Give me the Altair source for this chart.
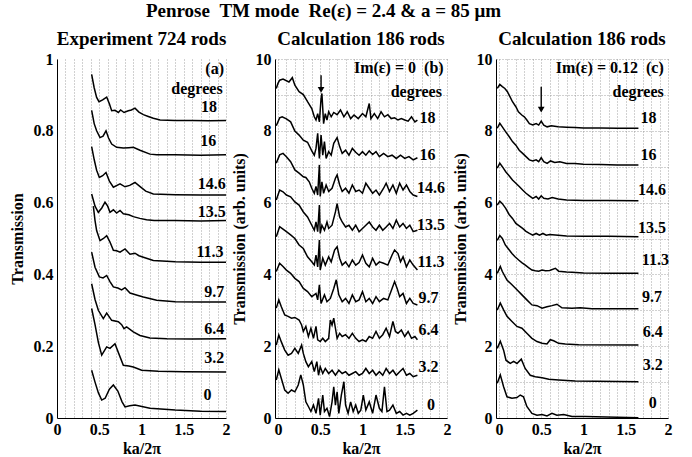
import altair as alt
import pandas as pd

FONT = "Liberation Serif"
NB = "\u00a0"

ANGLES = ["18", "16", "14.6", "13.5", "11.3", "9.7", "6.4", "3.2", "0"]
OFFSETS = [8, 7, 6, 5, 4, 3, 2, 1, 0]

# ---------------- Panel (a): experiment, absolute transmission ----------------
A18_X = [0.41, 0.44, 0.469, 0.497, 0.54, 0.588, 0.62, 0.647, 0.686, 0.726, 0.753, 0.793, 0.844, 0.88, 0.923, 0.97, 1.022, 1.08, 1.14, 1.22, 1.4, 1.6, 1.8, 2.0]
A18_Y = [0.957, 0.92, 0.893, 0.881, 0.886, 0.894, 0.875, 0.856, 0.857, 0.851, 0.858, 0.851, 0.856, 0.858, 0.863, 0.852, 0.845, 0.84, 0.835, 0.830, 0.829, 0.829, 0.828, 0.829]
A16_X = [0.41, 0.44, 0.469, 0.509, 0.545, 0.58, 0.61, 0.647, 0.706, 0.785, 0.85, 0.903, 0.982, 1.1, 1.18, 1.4, 1.7, 2.0]
A16_Y = [0.857, 0.82, 0.80, 0.781, 0.785, 0.80, 0.78, 0.763, 0.754, 0.752, 0.753, 0.754, 0.746, 0.735, 0.733, 0.733, 0.732, 0.733]
A146_X = [0.41, 0.44, 0.469, 0.501, 0.54, 0.58, 0.62, 0.667, 0.746, 0.805, 0.86, 0.923, 0.98, 1.05, 1.14, 1.4, 1.7, 2.0]
A146_Y = [0.756, 0.72, 0.69, 0.670, 0.675, 0.684, 0.66, 0.643, 0.652, 0.644, 0.648, 0.656, 0.645, 0.632, 0.624, 0.622, 0.621, 0.621]
A135_X = [0.41, 0.45, 0.489, 0.53, 0.568, 0.6, 0.627, 0.667, 0.706, 0.746, 0.785, 0.85, 0.903, 0.98, 1.06, 1.15, 1.4, 1.7, 2.0]
A135_Y = [0.624, 0.59, 0.573, 0.585, 0.601, 0.59, 0.573, 0.580, 0.571, 0.578, 0.569, 0.566, 0.561, 0.556, 0.552, 0.550, 0.550, 0.549, 0.550]
A113_X = [0.43, 0.45, 0.469, 0.509, 0.55, 0.588, 0.627, 0.667, 0.706, 0.746, 0.805, 0.864, 0.923, 0.97, 1.022, 1.14, 1.4, 1.7, 2.0]
A113_Y = [0.59, 0.55, 0.522, 0.494, 0.50, 0.508, 0.49, 0.467, 0.466, 0.462, 0.471, 0.456, 0.459, 0.452, 0.448, 0.439, 0.435, 0.434, 0.434]
A97_X = [0.41, 0.45, 0.501, 0.545, 0.588, 0.627, 0.667, 0.72, 0.765, 0.805, 0.864, 0.95, 1.022, 1.18, 1.4, 1.7, 2.0]
A97_Y = [0.462, 0.42, 0.393, 0.39, 0.397, 0.38, 0.365, 0.362, 0.357, 0.363, 0.348, 0.342, 0.337, 0.328, 0.324, 0.323, 0.323]
A64_X = [0.41, 0.45, 0.489, 0.548, 0.588, 0.647, 0.726, 0.765, 0.793, 0.824, 0.903, 0.982, 1.1, 1.3, 1.6, 2.0]
A64_Y = [0.374, 0.33, 0.300, 0.277, 0.292, 0.272, 0.268, 0.26, 0.249, 0.254, 0.240, 0.230, 0.223, 0.221, 0.220, 0.221]
A32_X = [0.41, 0.45, 0.49, 0.529, 0.588, 0.627, 0.686, 0.73, 0.785, 0.85, 0.903, 1.002, 1.2, 1.5, 2.0]
A32_Y = [0.305, 0.26, 0.21, 0.175, 0.198, 0.194, 0.207, 0.18, 0.147, 0.145, 0.142, 0.133, 0.130, 0.129, 0.128]
A0_X = [0.41, 0.45, 0.49, 0.529, 0.57, 0.62, 0.667, 0.72, 0.77, 0.805, 0.86, 0.923, 1.1, 1.4, 1.7, 2.0]
A0_Y = [0.133, 0.10, 0.07, 0.05, 0.055, 0.08, 0.092, 0.075, 0.045, 0.031, 0.034, 0.036, 0.027, 0.022, 0.019, 0.018]

A_LABEL_X = [1.80, 1.79, 1.83, 1.83, 1.81, 1.86, 1.86, 1.86, 1.78]
A_LABEL_Y = [0.867, 0.772, 0.653, 0.573, 0.462, 0.351, 0.249, 0.166, 0.064]
A_NOTES = ["(a)", "degrees"]
A_NOTE_X = [1.976, 1.96]
A_NOTE_Y = [0.972, 0.917]

# ---------------- Panel (b): calculation Im(eps)=0, value above each offset ----------------
B18_X = [-0.02, 0, 0.02, 0.06, 0.13, 0.17, 0.2, 0.25, 0.3, 0.35, 0.4, 0.43, 0.45, 0.47, 0.49, 0.51, 0.52, 0.54, 0.56, 0.58, 0.6, 0.63, 0.66, 0.7, 0.74, 0.78, 0.82, 0.86, 0.9, 0.95, 1.0, 1.04, 1.08, 1.1, 1.14, 1.18, 1.22, 1.26, 1.3, 1.34, 1.38, 1.42, 1.46, 1.5, 1.54, 1.58, 1.62, 1.65]
B18_R = [1.18, 1.32, 1.41, 1.44, 1.36, 1.48, 1.27, 1.09, 1.01, 0.81, 0.62, 0.39, 0.30, 0.48, 0.25, 0.90, 1.04, 0.20, 0.48, 0.30, 0.53, 0.39, 0.51, 0.45, 0.58, 0.39, 0.53, 0.34, 0.44, 0.34, 0.48, 0.39, 0.76, 0.34, 0.48, 0.34, 0.53, 0.39, 0.45, 0.34, 0.36, 0.30, 0.34, 0.30, 0.27, 0.39, 0.25, 0.30]
B16_X = [-0.02, 0.02, 0.05, 0.1, 0.15, 0.2, 0.25, 0.3, 0.35, 0.4, 0.43, 0.45, 0.47, 0.49, 0.51, 0.53, 0.55, 0.57, 0.6, 0.63, 0.66, 0.7, 0.73, 0.76, 0.8, 0.84, 0.88, 0.92, 0.96, 1.0, 1.04, 1.08, 1.12, 1.16, 1.2, 1.25, 1.3, 1.35, 1.4, 1.45, 1.5, 1.55, 1.6, 1.65]
B16_R = [1.14, 1.36, 1.39, 1.33, 1.25, 0.99, 0.88, 0.74, 0.68, 0.44, 0.32, 0.51, 0.93, 0.23, 0.88, 0.32, 0.70, 0.23, 0.42, 0.32, 0.65, 0.81, 0.56, 0.37, 0.46, 0.32, 0.51, 0.40, 0.32, 0.42, 0.32, 0.44, 0.34, 0.42, 0.28, 0.37, 0.28, 0.32, 0.23, 0.32, 0.23, 0.28, 0.19, 0.25]
B146_X = [-0.02, 0.02, 0.06, 0.1, 0.15, 0.2, 0.25, 0.3, 0.33, 0.37, 0.4, 0.43, 0.45, 0.47, 0.49, 0.5, 0.52, 0.54, 0.57, 0.6, 0.64, 0.68, 0.7, 0.73, 0.76, 0.8, 0.84, 0.88, 0.92, 0.96, 1.0, 1.04, 1.08, 1.12, 1.16, 1.2, 1.25, 1.28, 1.32, 1.36, 1.4, 1.44, 1.48, 1.52, 1.56, 1.6, 1.65]
B146_R = [1.10, 1.33, 1.37, 1.28, 1.14, 0.91, 0.82, 0.72, 0.70, 0.58, 0.40, 0.26, 0.45, 0.21, 1.05, 0.17, 0.58, 0.26, 0.49, 0.31, 0.40, 0.68, 0.77, 0.49, 0.31, 0.40, 0.26, 0.49, 0.31, 0.35, 0.26, 0.54, 0.40, 0.26, 0.35, 0.21, 0.40, 0.54, 0.31, 0.49, 0.26, 0.54, 0.35, 0.49, 0.31, 0.21, 0.17]
B135_X = [-0.02, 0.02, 0.06, 0.1, 0.15, 0.2, 0.25, 0.3, 0.35, 0.4, 0.43, 0.45, 0.47, 0.49, 0.5, 0.52, 0.55, 0.58, 0.6, 0.64, 0.68, 0.7, 0.73, 0.76, 0.8, 0.84, 0.88, 0.92, 0.96, 1.0, 1.04, 1.08, 1.12, 1.16, 1.2, 1.24, 1.28, 1.32, 1.36, 1.4, 1.44, 1.48, 1.52, 1.56, 1.6, 1.65]
B135_R = [1.07, 1.35, 1.30, 1.21, 1.16, 1.02, 0.93, 0.74, 0.60, 0.37, 0.23, 0.46, 0.19, 0.93, 0.14, 0.37, 0.23, 0.46, 0.28, 0.37, 0.74, 0.97, 0.60, 0.46, 0.32, 0.37, 0.23, 0.37, 0.19, 0.28, 0.37, 0.46, 0.32, 0.23, 0.37, 0.23, 0.32, 0.42, 0.28, 0.51, 0.32, 0.42, 0.28, 0.37, 0.19, 0.23]
B113_X = [-0.02, 0.02, 0.06, 0.1, 0.15, 0.2, 0.25, 0.3, 0.35, 0.4, 0.43, 0.45, 0.47, 0.49, 0.5, 0.53, 0.56, 0.6, 0.63, 0.67, 0.7, 0.73, 0.76, 0.8, 0.84, 0.88, 0.92, 0.96, 1.0, 1.04, 1.08, 1.12, 1.16, 1.2, 1.25, 1.3, 1.35, 1.38, 1.42, 1.45, 1.48, 1.52, 1.56, 1.6, 1.65]
B113_R = [1.05, 1.33, 1.26, 1.19, 1.10, 1.00, 0.82, 0.72, 0.49, 0.35, 0.26, 0.54, 0.21, 0.96, 0.12, 0.45, 0.26, 0.49, 0.35, 0.68, 0.77, 0.45, 0.26, 0.35, 0.21, 0.40, 0.26, 0.33, 0.54, 0.31, 0.21, 0.45, 0.26, 0.35, 0.31, 0.26, 0.54, 0.68, 0.58, 0.35, 0.49, 0.21, 0.40, 0.26, 0.12]
B97_X = [-0.02, 0.02, 0.06, 0.1, 0.15, 0.2, 0.25, 0.3, 0.35, 0.4, 0.45, 0.47, 0.49, 0.51, 0.55, 0.58, 0.62, 0.66, 0.69, 0.72, 0.76, 0.8, 0.84, 0.88, 0.92, 0.96, 1.0, 1.04, 1.08, 1.12, 1.16, 1.2, 1.25, 1.3, 1.35, 1.38, 1.41, 1.44, 1.48, 1.52, 1.56, 1.6, 1.65]
B97_R = [1.08, 1.31, 1.22, 1.12, 1.03, 0.89, 0.80, 0.61, 0.52, 0.38, 0.47, 0.29, 0.71, 0.19, 0.43, 0.24, 0.33, 0.61, 0.85, 0.43, 0.24, 0.33, 0.19, 0.43, 0.24, 0.29, 0.52, 0.24, 0.33, 0.19, 0.38, 0.24, 0.33, 0.29, 0.61, 0.80, 0.61, 0.38, 0.47, 0.19, 0.33, 0.19, 0.15]
B64_X = [-0.02, 0.01, 0.04, 0.08, 0.12, 0.16, 0.2, 0.25, 0.28, 0.3, 0.33, 0.36, 0.39, 0.42, 0.45, 0.47, 0.5, 0.53, 0.56, 0.6, 0.62, 0.64, 0.66, 0.68, 0.7, 0.73, 0.76, 0.8, 0.84, 0.88, 0.92, 0.96, 1.0, 1.04, 1.08, 1.12, 1.16, 1.2, 1.24, 1.28, 1.32, 1.36, 1.39, 1.42, 1.46, 1.5, 1.54, 1.58, 1.62, 1.65]
B64_R = [1.06, 1.29, 1.10, 0.87, 0.83, 0.78, 0.80, 0.73, 0.59, 0.41, 0.55, 0.27, 0.50, 0.22, 0.55, 0.18, 0.13, 0.22, 0.13, 0.22, 0.73, 0.59, 0.78, 0.50, 0.22, 0.36, 0.27, 0.32, 0.22, 0.36, 0.22, 0.13, 0.18, 0.13, 0.27, 0.22, 0.41, 0.22, 0.32, 0.50, 0.27, 0.69, 0.41, 0.36, 0.45, 0.27, 0.41, 0.22, 0.27, 0.18]
B32_X = [-0.02, 0.01, 0.04, 0.08, 0.12, 0.16, 0.2, 0.24, 0.28, 0.3, 0.33, 0.36, 0.4, 0.43, 0.46, 0.48, 0.5, 0.53, 0.56, 0.6, 0.64, 0.68, 0.72, 0.76, 0.8, 0.84, 0.88, 0.92, 0.96, 1.0, 1.04, 1.08, 1.12, 1.16, 1.2, 1.24, 1.28, 1.32, 1.36, 1.4, 1.44, 1.48, 1.52, 1.56, 1.6, 1.65]
B32_R = [1.03, 1.31, 1.12, 0.89, 0.75, 0.80, 0.94, 0.80, 1.03, 0.80, 0.57, 0.43, 0.57, 0.29, 0.57, 0.19, 0.43, 0.24, 0.38, 0.24, 0.33, 0.19, 0.33, 0.24, 0.29, 0.19, 0.24, 0.29, 0.19, 0.24, 0.38, 0.24, 0.33, 0.19, 0.29, 0.19, 0.38, 0.24, 0.33, 0.19, 0.29, 0.38, 0.19, 0.24, 0.15, 0.19]
B0_X = [-0.02, 0.01, 0.04, 0.08, 0.12, 0.16, 0.2, 0.24, 0.27, 0.3, 0.33, 0.36, 0.39, 0.42, 0.45, 0.48, 0.5, 0.53, 0.55, 0.58, 0.61, 0.64, 0.66, 0.68, 0.7, 0.72, 0.75, 0.78, 0.8, 0.83, 0.86, 0.89, 0.92, 0.95, 0.98, 1.01, 1.04, 1.08, 1.12, 1.16, 1.2, 1.23, 1.26, 1.29, 1.32, 1.36, 1.4, 1.44, 1.48, 1.52, 1.56, 1.6, 1.65]
B0_R = [1.06, 1.34, 1.10, 0.78, 0.69, 0.78, 0.73, 0.92, 1.20, 0.92, 0.45, 0.32, 0.18, 0.36, 0.13, 0.55, 0.08, 0.64, 0.18, 0.27, 0.04, 0.45, 0.87, 0.36, 0.73, 0.13, 0.64, 1.01, 0.36, 0.13, 0.45, 0.18, 0.36, 0.13, 0.22, 0.64, 0.22, 0.45, 0.13, 0.64, 0.27, 0.18, 0.87, 0.18, 0.22, 0.36, 0.13, 0.18, 0.08, 0.13, 0.08, 0.13, 0.22]

B_LABEL_X = [1.77, 1.77, 1.81, 1.81, 1.81, 1.78, 1.78, 1.78, 1.81]
B_LABEL_Y = [8.35, 7.33, 6.40, 5.38, 4.34, 3.33, 2.45, 1.43, 0.36]
B_NOTES = ["Im(ε) =" + NB + "0" + NB + NB + "(b)", "degrees"]
B_NOTE_X = [1.96, 1.94]
B_NOTE_Y = [9.74, 9.09]
B_ARROW = [0.51, 9.55, 9.02]

# ---------------- Panel (c): calculation Im(eps)=0.12 ----------------
C18_X = [-0.02, 0.01, 0.04, 0.07, 0.1, 0.13, 0.16, 0.2, 0.23, 0.27, 0.3, 0.33, 0.36, 0.4, 0.44, 0.47, 0.5, 0.53, 0.57, 0.62, 0.7, 0.8, 0.9, 1.0, 1.2, 1.4, 1.65]
C18_R = [1.18, 1.29, 1.23, 1.18, 1.09, 0.95, 0.81, 0.67, 0.53, 0.44, 0.39, 0.30, 0.20, 0.16, 0.20, 0.16, 0.27, 0.16, 0.11, 0.14, 0.11, 0.10, 0.09, 0.08, 0.08, 0.07, 0.07]
C16_X = [-0.02, 0.01, 0.04, 0.08, 0.12, 0.16, 0.2, 0.24, 0.28, 0.32, 0.36, 0.4, 0.44, 0.47, 0.5, 0.53, 0.57, 0.61, 0.66, 0.72, 0.8, 0.9, 1.0, 1.2, 1.4, 1.65]
C16_R = [1.07, 1.21, 1.11, 0.97, 0.84, 0.70, 0.60, 0.46, 0.37, 0.28, 0.19, 0.16, 0.19, 0.14, 0.25, 0.14, 0.09, 0.16, 0.12, 0.14, 0.09, 0.09, 0.07, 0.06, 0.05, 0.05]
C146_X = [-0.02, 0.01, 0.04, 0.08, 0.12, 0.16, 0.2, 0.24, 0.28, 0.32, 0.36, 0.4, 0.44, 0.47, 0.5, 0.53, 0.58, 0.63, 0.7, 0.8, 1.0, 1.3, 1.65]
C146_R = [0.96, 1.10, 1.00, 0.86, 0.75, 0.63, 0.54, 0.45, 0.35, 0.26, 0.19, 0.12, 0.17, 0.10, 0.19, 0.12, 0.10, 0.14, 0.10, 0.07, 0.06, 0.06, 0.05]
C135_X = [-0.02, 0.01, 0.04, 0.08, 0.12, 0.16, 0.2, 0.24, 0.28, 0.32, 0.36, 0.4, 0.44, 0.48, 0.52, 0.56, 0.6, 0.7, 0.8, 1.0, 1.3, 1.65]
C135_R = [0.93, 1.04, 0.97, 0.84, 0.67, 0.56, 0.42, 0.35, 0.28, 0.20, 0.14, 0.09, 0.14, 0.09, 0.14, 0.09, 0.11, 0.09, 0.07, 0.06, 0.06, 0.05]
C113_X = [-0.02, 0.01, 0.04, 0.075, 0.115, 0.154, 0.19, 0.233, 0.27, 0.312, 0.35, 0.39, 0.43, 0.47, 0.51, 0.55, 0.6, 0.667, 0.706, 0.8, 0.864, 1.0, 1.3, 1.65]
C113_R = [0.95, 1.08, 1.00, 0.82, 0.70, 0.58, 0.49, 0.40, 0.33, 0.26, 0.19, 0.12, 0.10, 0.09, 0.12, 0.10, 0.11, 0.17, 0.09, 0.07, 0.06, 0.04, 0.03, 0.03]
C97_X = [-0.02, 0.016, 0.04, 0.095, 0.154, 0.213, 0.272, 0.33, 0.39, 0.45, 0.51, 0.568, 0.627, 0.686, 0.745, 0.864, 0.962, 1.1, 1.65]
C97_R = [1.03, 1.22, 1.08, 0.84, 0.71, 0.57, 0.43, 0.29, 0.15, 0.13, 0.06, 0.10, 0.13, 0.17, 0.07, 0.06, 0.07, 0.04, 0.04]
C64_X = [-0.02, 0.016, 0.055, 0.095, 0.154, 0.213, 0.272, 0.33, 0.39, 0.45, 0.51, 0.568, 0.607, 0.647, 0.706, 0.785, 0.943, 1.65]
C64_R = [1.01, 1.20, 1.01, 0.83, 0.69, 0.55, 0.50, 0.36, 0.22, 0.13, 0.08, 0.06, 0.18, 0.15, 0.08, 0.06, 0.04, 0.03]
C32_X = [-0.02, 0.016, 0.055, 0.083, 0.134, 0.174, 0.213, 0.264, 0.31, 0.37, 0.43, 0.51, 0.59, 0.706, 0.9, 1.65]
C32_R = [0.94, 1.14, 0.89, 0.61, 0.52, 0.58, 0.52, 0.64, 0.38, 0.19, 0.15, 0.12, 0.08, 0.06, 0.03, 0.01]
C0_X = [-0.02, 0.016, 0.055, 0.095, 0.154, 0.213, 0.252, 0.29, 0.33, 0.39, 0.45, 0.51, 0.568, 0.627, 0.686, 0.765, 0.864, 1.02, 1.65]
C0_R = [0.97, 1.20, 0.87, 0.59, 0.55, 0.57, 0.64, 0.59, 0.32, 0.13, 0.08, 0.10, 0.06, 0.13, 0.08, 0.10, 0.04, 0.04, 0.01]

C_LABEL_X = [1.77, 1.77, 1.81, 1.81, 1.85, 1.81, 1.82, 1.82, 1.82]
C_LABEL_Y = [8.35, 7.33, 6.35, 5.28, 4.40, 3.38, 2.40, 1.48, 0.41]
C_NOTES = ["Im(ε) =" + NB + "0.12" + NB + NB + "(c)", "degrees"]
C_NOTE_X = [1.95, 1.95]
C_NOTE_Y = [9.74, 9.09]
C_ARROW = [0.50, 9.23, 8.47]

X_TICKS = [round(i * 0.1, 1) for i in range(21)]
YA_TICKS = [round(i * 0.1, 1) for i in range(11)]
YB_TICKS = list(range(11))


def curves_df(xs_list, ys_list, offsets):
    rows = []
    for ang, off, xs, ys in zip(ANGLES, offsets, xs_list, ys_list):
        for x, y in zip(xs, ys):
            rows.append({"curve": ang, "x": x, "y": y + off})
    return pd.DataFrame(rows)


def text_df(texts, xs, ys):
    return pd.DataFrame({"t": texts, "x": xs, "y": ys})


GRID = dict(gridColor="#8a8a8a", gridDash=[1, 2], gridWidth=0.8)


def panel(df, labels, notes, xdom, ydom, yticks, ygrid, ytitle, ylabel_expr, title, arrow=None):
    xs = alt.Scale(domain=xdom, nice=False, zero=False)
    ys = alt.Scale(domain=ydom, nice=False, zero=False)
    xaxis = alt.Axis(values=X_TICKS, grid=True, ticks=False, labelFlush=False, labelOverlap=False,
                     labelExpr="abs(datum.value*2 - round(datum.value*2)) < 0.001 ? format(datum.value, '~g') : ''",
                     title="ka/2π", labelPadding=3, titlePadding=3, **GRID)
    yaxis = alt.Axis(values=yticks, grid=ygrid, ticks=False, labelOverlap=False,
                     labelExpr=ylabel_expr, title=ytitle, labelPadding=4, titlePadding=8, **GRID)

    def X(field="x"):
        return alt.X(f"{field}:Q", scale=xs, axis=xaxis, title="ka/2π")

    def Y(field="y"):
        return alt.Y(f"{field}:Q", scale=ys, axis=yaxis, title=ytitle)

    lines = alt.Chart(df).mark_line(color="black", strokeWidth=1.5).encode(
        x=X(), y=Y(), detail="curve:N", order="x:Q")
    lab = alt.Chart(labels).mark_text(font=FONT, fontSize=16, fontWeight="bold", color="black",
                                      align="center", baseline="middle").encode(x=X(), y=Y(), text="t:N")
    nts = alt.Chart(notes).mark_text(font=FONT, fontSize=16, fontWeight="bold", color="black",
                                     align="right", baseline="middle").encode(x=X(), y=Y(), text="t:N")
    layers = [lines, lab, nts]
    if arrow is not None:
        adf = pd.DataFrame({"x": [arrow[0]], "y": [arrow[1]], "y2": [arrow[2] + 0.12]})
        rule = alt.Chart(adf).mark_rule(color="black", strokeWidth=1.4).encode(
            x=X(), y=Y(), y2="y2:Q")
        head = alt.Chart(adf).mark_point(shape="triangle-down", filled=True, color="black",
                                         size=45, opacity=1).encode(x=X(), y=Y("y2"))
        layers += [rule, head]
    return alt.layer(*layers).properties(
        width=172 if xdom[0] < 0 else 169, height=359,
        title=alt.TitleParams(title, font=FONT, fontSize=19, fontWeight="bold", color="black",
                              anchor="middle", offset=2))


df_a = curves_df([A18_X, A16_X, A146_X, A135_X, A113_X, A97_X, A64_X, A32_X, A0_X],
                 [A18_Y, A16_Y, A146_Y, A135_Y, A113_Y, A97_Y, A64_Y, A32_Y, A0_Y], [0] * 9)
df_b = curves_df([B18_X, B16_X, B146_X, B135_X, B113_X, B97_X, B64_X, B32_X, B0_X],
                 [B18_R, B16_R, B146_R, B135_R, B113_R, B97_R, B64_R, B32_R, B0_R], OFFSETS)
df_c = curves_df([C18_X, C16_X, C146_X, C135_X, C113_X, C97_X, C64_X, C32_X, C0_X],
                 [C18_R, C16_R, C146_R, C135_R, C113_R, C97_R, C64_R, C32_R, C0_R], OFFSETS)

panel_a = panel(df_a, text_df(ANGLES, A_LABEL_X, A_LABEL_Y), text_df(A_NOTES, A_NOTE_X, A_NOTE_Y),
                [0, 2], [0, 1], YA_TICKS, False, "Transmission",
                "round(datum.value*10) % 2 == 0 ? format(datum.value, '~g') : ''", "Experiment 724 rods")
panel_b = panel(df_b, text_df(ANGLES, B_LABEL_X, B_LABEL_Y), text_df(B_NOTES, B_NOTE_X, B_NOTE_Y),
                [-0.035, 2.0], [0, 10], YB_TICKS, True, "Transmission (arb. units)",
                "datum.value % 2 == 0 ? format(datum.value, '~g') : ''", "Calculation 186 rods", B_ARROW)
panel_c = panel(df_c, text_df(ANGLES, C_LABEL_X, C_LABEL_Y), text_df(C_NOTES, C_NOTE_X, C_NOTE_Y),
                [-0.035, 2.0], [0, 10], YB_TICKS, True, "Transmission (arb. units)",
                "datum.value % 2 == 0 ? format(datum.value, '~g') : ''", "Calculation 186 rods", C_ARROW)

MAIN_TITLE = "Penrose" + NB + NB + "TM mode" + NB + NB + "Re(ε) = 2.4 & a = 85 μm"

chart = alt.hconcat(panel_a, panel_b, panel_c, spacing=49, bounds="flush").properties(
    title=alt.TitleParams(MAIN_TITLE, font=FONT, fontSize=19, fontWeight="bold", color="black",
                          anchor="middle", dx=-17, offset=9),
    padding={"left": 9, "top": 2, "right": 2, "bottom": 2},
    background="white",
).configure_axis(
    labelFont=FONT, titleFont=FONT, labelFontSize=16, titleFontSize=16,
    labelFontWeight="bold", titleFontWeight="bold", labelColor="black", titleColor="black",
    domainColor="black", domainWidth=1,
).configure_view(stroke=None)

chart.save("out.html", embed_options={"renderer": "svg", "actions": False})
